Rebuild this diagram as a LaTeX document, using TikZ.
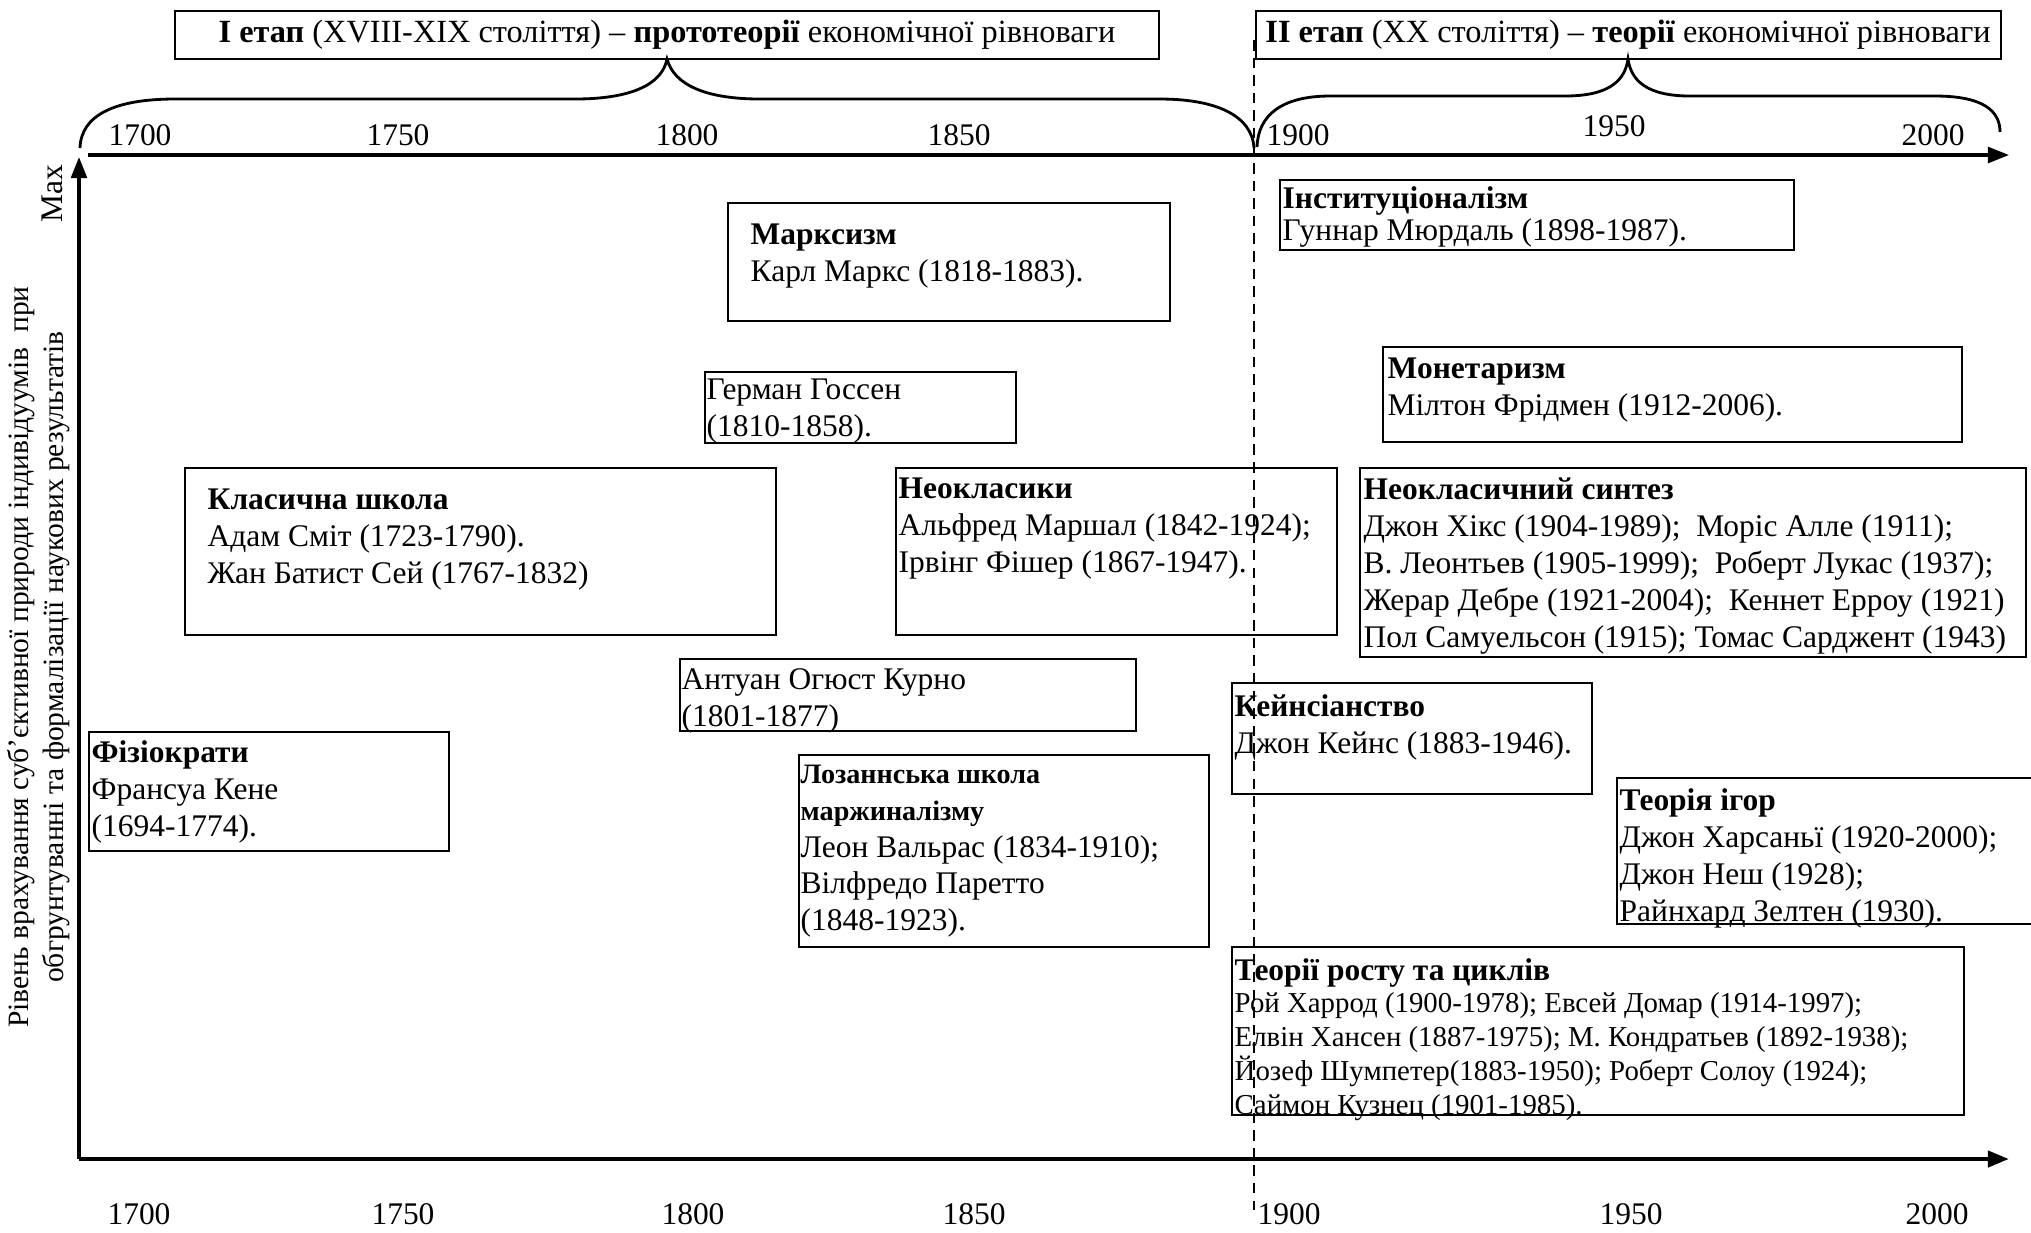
\documentclass[tikz,border=0pt]{standalone}
\usepackage{fontspec}
\setmainfont{Liberation Serif}
\usetikzlibrary{arrows.meta}

\begin{document}
\begin{tikzpicture}[x=0.01cm,y=-0.01cm,
  lbl/.style={inner sep=0pt, font=\fontsize{8.95}{10.5}\selectfont},
  txt/.style={lbl, anchor=north west, align=left},
  small/.style={txt, font=\fontsize{8.2}{9.6}\selectfont},
  frame/.style={line width=0.6pt},
  axis/.style={line width=0.9pt, -{Triangle[length=6pt,width=4.5pt]}},
  brace/.style={line width=0.8pt}]
  \useasboundingbox (0,0) rectangle (2031,1232);

  \coordinate (O) at (79,1159);
  \coordinate (Ytop) at (79,157);
  \coordinate (Xend) at (2009,1159);
  \coordinate (Tstart) at (88,155);
  \coordinate (Tend) at (2009,155);

  \draw[axis] (O) -- (Ytop);
  \draw[axis, line width=1.3pt] (O) -- (Xend);
  \draw[axis] (Tstart) -- (Tend); % time axis on top

  % stages
  \draw[frame] (175,11) rectangle (1159,59);
  \node[lbl, font=\fontsize{9.2}{11}\selectfont] (stage1) at (667,35) {\textbf{I етап} (XVIII-XIX століття) -- \textbf{прототеорії} економічної рівноваги};
  \draw[frame] (1256,11) rectangle (2001,59);
  \node[lbl, font=\fontsize{9.2}{11}\selectfont] (stage2) at (1628,35) {\textbf{II етап} (XX століття) -- \textbf{теорії} економічної рівноваги};

  \coordinate (B1l) at (80,148);
  \coordinate (B1r) at (1254,148);
  \coordinate (B2l) at (1257,147);
  \coordinate (B2r) at (2000,132);
  \draw[brace] (B1l) .. controls (81,115) and (115,99) .. (175,99) -- (575,99)
    .. controls (630,99) and (662,85) .. (stage1.south |- 0,59)
    .. controls (674,85) and (706,99) .. (760,99) -- (1160,99)
    .. controls (1215,99) and (1252,115) .. (B1r);
  \draw[brace] (B2l) .. controls (1258,115) and (1282,96) .. (1330,96) -- (1565,96)
    .. controls (1610,96) and (1625,80) .. (1628,59)
    .. controls (1631,80) and (1646,96) .. (1690,96) -- (1935,96)
    .. controls (1985,96) and (2000,112) .. (B2r);

  % years
  \node[lbl] (u1700) at (140,135) {1700};
  \node[lbl] (u1750) at (398,135) {1750};
  \node[lbl] (u1800) at (687,135) {1800};
  \node[lbl] (u1850) at (959,135) {1850};
  \node[lbl] (u1900) at (1298,135) {1900};
  \node[lbl] (u1950) at (1614,126) {1950};
  \node[lbl] (u2000) at (1933,135) {2000};
  \node[lbl] (d1700) at (139,1214) {1700};
  \node[lbl] (d1750) at (403,1214) {1750};
  \node[lbl] (d1800) at (693,1214) {1800};
  \node[lbl] (d1850) at (974,1214) {1850};
  \node[lbl] (d1900) at (1289,1214) {1900};
  \node[lbl] (d1950) at (1631,1214) {1950};
  \node[lbl] (d2000) at (1937,1214) {2000};

  \node[lbl, rotate=90] (maxlbl) at (52,194) {Max};
  \node[lbl, rotate=90, align=center, font=\fontsize{8.4}{10}\selectfont] (ylbl) at (39,657)
    {Рівень врахування суб'єктивної природи індивідуумів~ при\\обгрунтуванні та формалізації наукових результатів};

  % schools, I stage
  \draw[frame] (728,203) rectangle (1170,321);
  \node[txt] (marx) at (750,223) {\textbf{Марксизм}\\Карл Маркс (1818-1883).};
  \draw[frame] (705,372) rectangle (1016,443);
  \node[txt] (gossen) at (706,378) {Герман Госсен\\(1810-1858).};
  \draw[frame] (185,468) rectangle (776,635);
  \node[txt] (classic) at (207,488) {\textbf{Класична школа}\\Адам Сміт (1723-1790).\\Жан Батист Сей (1767-1832)};
  \draw[frame] (896,468) rectangle (1337,635);
  \node[txt] (neoclass) at (898,477) {\textbf{Неокласики}\\Альфред Маршал (1842-1924);\\Ірвінг Фішер (1867-1947).};
  \draw[frame] (680,659) rectangle (1136,731);
  \node[txt] (cournot) at (681,668) {Антуан Огюст Курно\\(1801-1877)};
  \draw[frame] (89,732) rectangle (449,851);
  \node[txt] (physio) at (91,740) {\textbf{Фізіократи}\\Франсуа Кене\\(1694-1774).};
  \draw[frame] (799,755) rectangle (1209,947);
  \node[txt] (lausanne) at (800,764) {{\fontsize{8}{9.6}\selectfont\bfseries Лозаннська школа}\\{\fontsize{8}{9.6}\selectfont\bfseries маржиналізму}\\Леон Вальрас (1834-1910);\\Вілфредо Паретто\\(1848-1923).};

  % schools, II stage
  \draw[frame] (1280,180) rectangle (1794,250);
  \node[txt] (instit) at (1282,186) {\textbf{Інституціоналізм}\\[-1.4pt]Гуннар Мюрдаль (1898-1987).};
  \draw[frame] (1383,347) rectangle (1962,442);
  \node[txt] (monet) at (1387,357) {\textbf{Монетаризм}\\Мілтон Фрідмен (1912-2006).};
  \draw[frame] (1360,468) rectangle (2026,657);
  \node[txt] (synth) at (1363,477) {\textbf{Неокласичний синтез}\\Джон Хікс (1904-1989);~ Моріс Алле (1911);\\В. Леонтьев (1905-1999);~ Роберт Лукас (1937);\\Жерар Дебре (1921-2004);~ Кеннет Ерроу (1921)\\Пол Самуельсон (1915); Томас Сарджент (1943)};
  \draw[frame] (1232,683) rectangle (1592,794);
  \node[txt] (keynes) at (1234,694) {\textbf{Кейнсіанство}\\Джон Кейнс (1883-1946).};
  \draw[frame] (2040,778) -- (1617,778) -- (1617,924) -- (2040,924);
  \node[txt] (games) at (1619,788) {\textbf{Теорія ігор}\\Джон Харсаньї (1920-2000);\\Джон Неш (1928);\\Райнхард Зелтен (1930).};
  \draw[frame] (1232,947) rectangle (1964,1115);
  \node[txt] (growth) at (1234,958) {\textbf{Теорії росту та циклів}};
  \node[small] (growthppl) at (1234,992) {Рой Харрод (1900-1978); Евсей Домар (1914-1997);\\Елвін Хансен (1887-1975); М. Кондратьев (1892-1938);\\Йозеф Шумпетер(1883-1950); Роберт Солоу (1924);\\Саймон Кузнец (1901-1985).};

  \draw[dash pattern=on 3pt off 2pt, line width=0.45pt] (1254,40) -- (1254,1210); % border of stages
\end{tikzpicture}
\end{document}
